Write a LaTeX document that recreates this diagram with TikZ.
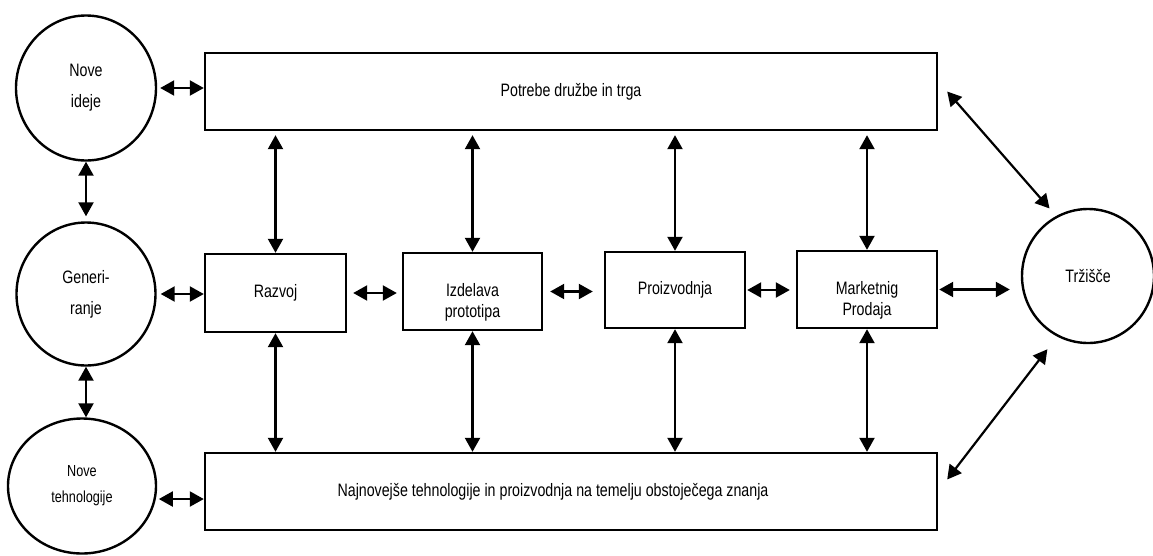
\documentclass[tikz,border=0pt]{standalone}
\usepackage{fontspec}
\setmainfont{Liberation Sans}[FakeStretch=0.79]
\usetikzlibrary{arrows.meta,shapes.geometric}

\begin{document}
\begin{tikzpicture}[x=1pt,y=-1pt,
  outline/.style={draw=black, line width=2.4pt},
  bigbox/.style={outline, rectangle, minimum width=732pt, minimum height=77pt,
    inner sep=0pt, font=\fontsize{18}{21}\selectfont},
  stagebox/.style={outline, rectangle, minimum width=140pt, minimum height=77pt,
    inner sep=0pt, font=\fontsize{18}{21}\selectfont},
  stagetext/.style={align=center, inner sep=0pt, font=\fontsize{18}{21}\selectfont},
  source/.style={outline, ellipse, inner sep=0pt, align=center,
    font=\fontsize{18}{31}\selectfont},
  link/.style={line width=2.2pt,
    {Triangle[length=14pt,width=15pt]}-{Triangle[length=14pt,width=15pt]}},
]
\useasboundingbox (0,0) rectangle (1153,555);
\clip (0,0) rectangle (1153,555);

% sources on the left and the market on the right
\node[source, minimum width=140pt, minimum height=145pt] (ni) at (86,88) {Nove\\ideje};
\node[source, minimum width=139pt, minimum height=143pt] (gen) at (86,294) {Generi-\\ranje};
\node[source, minimum width=148pt, minimum height=135pt,
      font=\fontsize{16}{26}\selectfont] (nt) at (82,486) {Nove\\tehnologije};
\node[source, minimum width=132pt, minimum height=134pt] (trz) at (1088,276) {Tržišče};

% the two wide frames
\node[bigbox] (top) at (571,91.5) {Potrebe družbe in trga};
\node[bigbox] (bot) at (571,491.5)
  {Najnovejše tehnologije in proizvodnja na temelju obstoječega znanja\hspace*{36pt}};

% the four stages
\node[stagebox, minimum width=141pt, minimum height=78pt] (raz) at (275.5,293) {Razvoj};
\node[stagebox, minimum width=139pt] (izd) at (472.5,291.5) {};
\node[stagetext] (izd-label) at (472.5,302) {Izdelava\\prototipa};
\node[stagebox, minimum width=140pt, minimum height=76pt] (proi) at (675,290) {Proizvodnja};
\node[stagebox, minimum width=140pt] (mark) at (867,289.5) {};
\node[stagetext] (mark-label) at (867,300) {Marketnig\\Prodaja};

% links between the sources and the frames
\draw[link, shorten <=3pt] (ni.east) -- (ni.east -| top.west);
\draw[link, shorten >=5pt] (ni.south) -- (ni.south |- gen.north);
\draw[link] (gen.south) -- (gen.south |- nt.north);
\draw[link, shorten <=4pt] (gen.east) -- (gen.east -| raz.west);
\draw[link, shorten <=3pt] (nt.-10) -- (nt.-10 -| bot.west);

% stages linked up to the needs and down to the knowledge base
\foreach \s in {raz,izd,proi,mark} {
  \draw[link, shorten <=4pt] (\s.north |- top.south) -- (\s.north);
  \draw[link] (\s.south) -- (\s.south |- bot.north);
}

% chain of stages towards the market
\draw[link, shorten <=6pt, shorten >=5pt] (raz.east) -- (raz.east -| izd.west);
\draw[link, shorten <=7pt, shorten >=11pt] (izd.east) -- (izd.east -| proi.west);
\draw[link, shorten <=1pt, shorten >=6pt] (proi.east) -- (proi.east -| mark.west);
\draw[link, shorten <=1pt, shorten >=11pt] (mark.east) -- (mark.east -| trz.west);

% market linked with both frames
\draw[link, shorten >=10pt] ([shift={(9,0)}]top.east) -- (trz.118);
\draw[link, shorten >=16pt] ([shift={(9,-12)}]bot.east) -- (trz.243);
\end{tikzpicture}
\end{document}
